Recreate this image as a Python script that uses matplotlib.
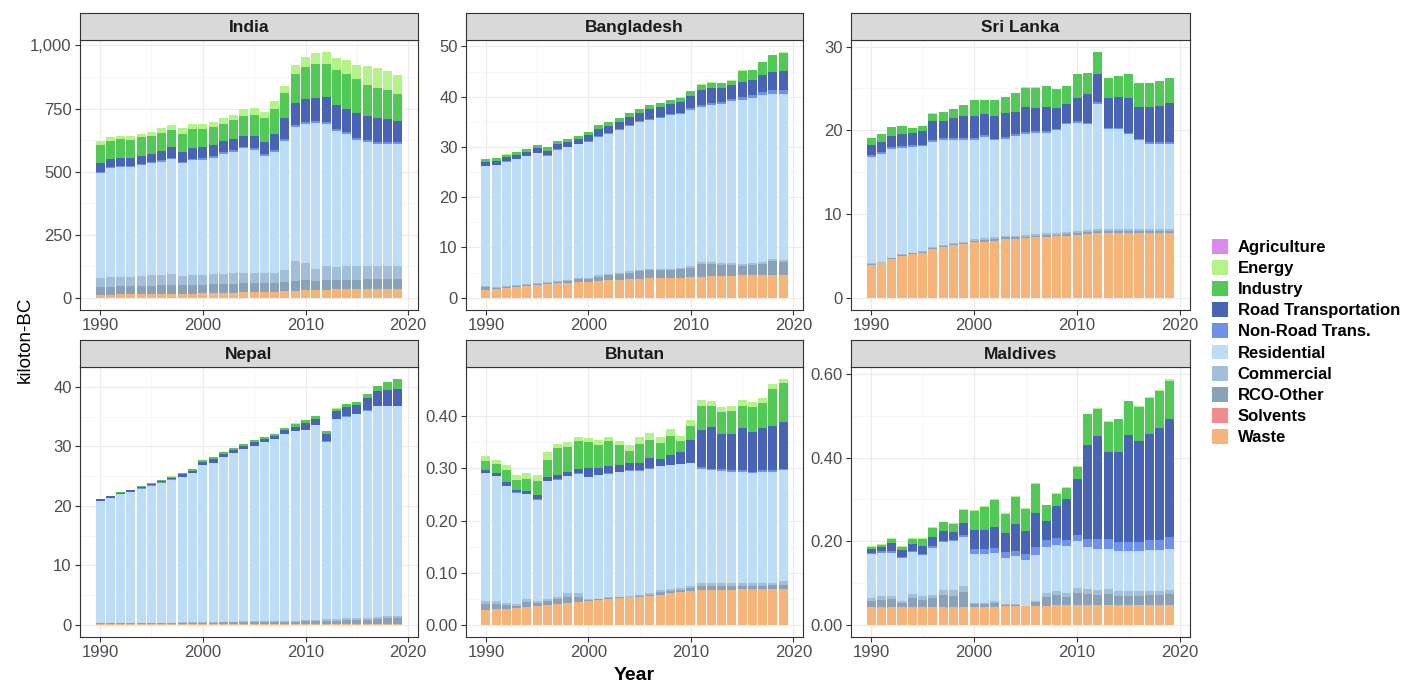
import numpy as np
import matplotlib
matplotlib.use("Agg")
import matplotlib.pyplot as plt
from matplotlib.patches import Patch

plt.rcParams['font.family'] = ['Liberation Sans', 'DejaVu Sans']

years = np.arange(1990, 2020)

# sectors from top of the stack (legend order) to bottom
sectors = ["Agriculture", "Energy", "Industry", "Road Transportation", "Non-Road Trans.",
           "Residential", "Commercial", "RCO-Other", "Solvents", "Waste"]
colors = ["#DC8BEB", "#B5F28A", "#52C957", "#4A64B5", "#6E91EC",
          "#BDDDF7", "#A2BEDB", "#8AA2B9", "#EE8C8E", "#F5B57A"]

no_emis = [0.0] * 30  # agriculture and solvents are ~0 everywhere

# ---- India (kt)
india_waste = [12,12,13,13,14,14,15,15,16,16,17,18,19,20,21,22,23,24,26,28,30,31,32,33,34,34,35,35,35,35]
india_rco = [30,32,32,33,34,34,35,36,33,34,34,35,35,36,36,36,36,36,38,40,40,36,38,38,38,38,38,38,38,38]
india_comm = [35,38,37,38,40,41,42,44,38,40,41,40,40,41,42,41,40,40,45,78,68,45,55,50,52,53,52,52,52,51]
india_res = [416,431,435,433,437,444,448,455,446,456,454,461,476,482,493,487,463,479,513,532,
             549,579,562,540,524,500,494,484,483,484]
india_nonroad = [5]*10 + [6]*10 + [8]*10
india_road = [38,32,33,31,33,32,38,41,38,42,44,45,45,44,44,49,50,65,84,86,91,93,99,96,94,100,93,96,92,84]
india_ind = [69,71,73,72,73,72,70,69,75,74,71,70,67,75,80,83,93,100,98,116,
             129,136,134,137,136,136,123,120,117,107]
india_energy = [16,16,14,16,15,16,18,19,20,21,21,20,25,22,25,28,26,29,28,35,
                39,42,45,48,55,52,74,79,72,77]

# ---- Bangladesh (kt)
bd_waste = [1.6,1.8,2.0,2.2,2.4,2.6,2.7,2.9,3.0,3.1,3.2,3.3,3.5,3.6,3.7,3.8,3.9,3.9,4.0,4.0,
            4.1,4.2,4.3,4.4,4.4,4.5,4.5,4.5,4.5,4.5]
bd_rco = [0.5,0.2,0.2,0.1,0.1,0.1,0.2,0.3,0.4,0.6,0.5,0.9,1.0,1.1,1.3,1.5,1.6,1.6,1.5,1.7,
          1.8,2.5,2.4,2.2,2.2,1.9,2.1,2.3,2.9,2.7]
bd_comm = [0.2]*10 + [0.3]*10 + [0.4]*10
bd_res = [23.9,24.2,24.7,25.1,25.5,25.9,25.2,26.0,26.3,26.6,27.0,27.5,27.8,28.3,28.9,29.3,29.6,30.0,30.5,30.6,
          31.1,30.9,31.3,31.5,32.1,32.5,32.7,33.1,32.8,33.0]
bd_nonroad = [0.1]*10 + [0.2]*10 + [0.3,0.4,0.4,0.4,0.5,0.6,0.6,0.7,0.8,0.8]
bd_road = [0.8,0.8,0.8,0.8,0.8,0.9,0.9,1.0,1.0,1.0,1.1,1.3,1.4,1.5,1.5,1.7,1.9,1.9,2.0,2.1,
           2.4,3.0,3.0,2.9,2.8,3.0,3.1,3.4,3.6,3.8]
bd_ind = [0.5,0.5,0.5,0.5,0.5,0.6,0.6,0.6,0.6,0.6,0.7,0.8,0.8,0.8,0.8,0.8,0.8,0.8,0.9,0.9,
          1.0,1.0,1.0,0.9,0.8,2.3,1.9,2.5,3.3,3.6]
bd_energy = [0.05]*30

# ---- Sri Lanka (kt)
sl_waste = [3.9,4.1,4.6,5.0,5.2,5.4,5.8,6.1,6.3,6.4,6.6,6.7,6.8,7.0,7.0,7.1,7.2,7.3,7.35,7.4,
            7.5,7.6,7.7,7.75,7.75,7.75,7.75,7.75,7.75,7.75]
sl_rco = [0.1]*10 + [0.2]*10 + [0.25]*10
sl_comm = [0.1]*10 + [0.2]*10 + [0.25]*10
sl_res = [12.7,12.9,13.0,12.7,12.6,12.5,12.6,12.6,12.4,12.3,11.9,12.1,11.6,11.6,11.9,12.1,12.1,12.0,12.25,12.9,
          12.9,12.6,15.0,11.85,11.85,11.25,10.55,10.15,10.15,10.15]
sl_nonroad = [0.2]*30
sl_road = [1.2,1.2,1.3,1.5,1.5,1.6,2.3,2.0,2.4,2.6,2.6,2.6,2.7,2.9,2.7,3.0,2.8,2.9,2.5,2.2,
           2.8,3.4,3.3,3.5,3.7,4.1,3.8,4.2,4.3,4.7]
sl_ind = [0.9,0.9,1.1,0.9,0.6,0.6,0.9,1.1,1.0,1.3,1.9,1.6,1.9,1.9,2.2,2.3,2.4,2.5,2.2,2.2,
          2.8,2.5,2.6,2.4,2.5,2.9,2.8,2.8,3.0,2.9]
sl_energy = [0.02]*30

# ---- Nepal (kt)
np_waste = [0.15]*30
np_rco = [0.1,0.1,0.1,0.1,0.15,0.15,0.15,0.15,0.2,0.2,0.2,0.2,0.25,0.25,0.3,0.3,0.3,0.3,0.35,0.35,
          0.4,0.4,0.5,0.55,0.6,0.65,0.7,0.8,0.9,0.9]
np_comm = [0.05]*10 + [0.1]*10 + [0.2,0.2,0.25,0.25,0.3,0.3,0.35,0.4,0.45,0.45]
np_res = [20.5,21.0,21.6,22.0,22.55,23.05,23.55,24.05,24.5,25.1,26.35,26.75,27.7,28.4,28.95,29.55,30.15,30.65,31.5,31.9,
          31.95,32.75,29.9,33.65,33.95,34.3,34.8,35.35,35.3,35.3]
np_nonroad = [0.02]*20 + [0.05]*10
np_road = [0.25,0.25,0.25,0.25,0.25,0.3,0.3,0.3,0.35,0.35,0.5,0.6,0.5,0.5,0.5,0.6,0.5,0.5,0.6,0.8,
           1.1,1.1,1.3,1.3,1.5,1.5,2.1,2.6,2.6,2.8]
np_ind = [0.1,0.1,0.1,0.1,0.1,0.15,0.15,0.2,0.2,0.3,0.4,0.4,0.3,0.3,0.3,0.4,0.3,0.3,0.4,0.5,
          0.5,0.5,0.45,0.4,0.5,0.5,0.7,0.8,1.4,1.6]
np_energy = [0.02]*30

# ---- Bhutan (kt)
bt_waste = [0.029,0.030,0.031,0.032,0.034,0.036,0.038,0.040,0.042,0.044,0.045,0.047,0.049,0.051,0.053,
            0.054,0.056,0.058,0.060,0.062,0.064,0.066,0.067,0.067,0.067,0.068,0.068,0.068,0.068,0.068]
bt_rco = [0.010,0.010,0.006,0.004,0.009,0.006,0.007,0.009,0.011,0.010,0.003,0.002,0.003,0.002,0.001,
          0.002,0.002,0.005,0.005,0.005,0.007,0.009,0.008,0.008,0.008,0.007,0.007,0.007,0.008,0.009]
bt_comm = [0.006,0.006,0.004,0.003,0.006,0.004,0.004,0.005,0.007,0.006,0.002,0.001,0.002,0.001,0.001,
           0.001,0.002,0.004,0.003,0.003,0.004,0.005,0.005,0.005,0.005,0.005,0.005,0.005,0.005,0.006]
bt_res = [0.246,0.239,0.225,0.214,0.201,0.194,0.226,0.224,0.225,0.230,0.233,0.237,0.236,0.239,0.240,
          0.238,0.239,0.237,0.238,0.238,0.235,0.219,0.216,0.215,0.213,0.213,0.211,0.213,0.212,0.213]
bt_nonroad = [0.001]*21 + [0.003]*9
bt_road = [0.005,0.005,0.006,0.005,0.006,0.007,0.007,0.008,0.007,0.008,0.017,0.013,0.013,0.012,0.014,
           0.015,0.020,0.013,0.018,0.022,0.044,0.072,0.081,0.068,0.070,0.081,0.075,0.082,0.086,0.090]
bt_ind = [0.018,0.017,0.024,0.019,0.023,0.027,0.034,0.052,0.048,0.053,0.049,0.043,0.048,0.038,0.023,
          0.036,0.035,0.030,0.038,0.021,0.027,0.046,0.040,0.043,0.045,0.043,0.049,0.047,0.070,0.074]
bt_energy = [0.008,0.009,0.010,0.010,0.011,0.012,0.014,0.008,0.009,0.009,0.009,0.010,0.008,0.008,0.011,
             0.014,0.013,0.013,0.012,0.011,0.010,0.011,0.009,0.009,0.009,0.012,0.010,0.010,0.010,0.008]

# ---- Maldives (kt)
mv_waste = [0.042]*10 + [0.043,0.043,0.043,0.044,0.044,0.044,0.045,0.046,0.047,0.047] + [0.048]*10
mv_rco = [0.016,0.018,0.020,0.011,0.022,0.018,0.021,0.029,0.028,0.036,0.007,0.007,0.009,0.003,0.004,
          0.001,0.009,0.021,0.024,0.020,0.028,0.026,0.024,0.026,0.022,0.022,0.022,0.023,0.023,0.025]
mv_comm = [0.007,0.008,0.008,0.005,0.010,0.008,0.009,0.013,0.012,0.015,0.003,0.003,0.004,0.002,0.002,
           0.000,0.004,0.009,0.010,0.009,0.012,0.011,0.010,0.011,0.010,0.010,0.010,0.010,0.010,0.011]
mv_res = [0.104,0.105,0.103,0.101,0.100,0.098,0.113,0.113,0.119,0.118,0.117,0.117,0.116,0.112,0.114,
          0.111,0.110,0.110,0.110,0.112,0.113,0.101,0.100,0.097,0.097,0.097,0.097,0.099,0.099,0.098]
mv_nonroad = [0.003]*10 + [0.012,0.012,0.012,0.013,0.013,0.013,0.018,0.016,0.016,0.014,
                           0.014,0.019,0.023,0.023,0.022,0.022,0.022,0.022,0.023,0.028]
mv_road = [0.010,0.010,0.019,0.018,0.016,0.020,0.023,0.025,0.018,0.029,0.045,0.045,0.051,0.045,0.065,
           0.056,0.081,0.047,0.078,0.099,0.134,0.226,0.246,0.208,0.214,0.256,0.242,0.255,0.269,0.282]
mv_ind = [0.004,0.005,0.010,0.006,0.013,0.017,0.020,0.020,0.019,0.032,0.046,0.055,0.063,0.047,0.065,
          0.052,0.070,0.037,0.029,0.026,0.030,0.073,0.066,0.072,0.079,0.080,0.080,0.086,0.088,0.092]
mv_energy = [0.002]*29 + [0.004]

# stacking order per panel, top -> bottom (same as sectors)
panels = [
    ("India", [no_emis, india_energy, india_ind, india_road, india_nonroad, india_res, india_comm, india_rco, no_emis, india_waste],
     [0, 250, 500, 750, 1000], ["0", "250", "500", "750", "1,000"]),
    ("Bangladesh", [no_emis, bd_energy, bd_ind, bd_road, bd_nonroad, bd_res, bd_comm, bd_rco, no_emis, bd_waste],
     [0, 10, 20, 30, 40, 50], ["0", "10", "20", "30", "40", "50"]),
    ("Sri Lanka", [no_emis, sl_energy, sl_ind, sl_road, sl_nonroad, sl_res, sl_comm, sl_rco, no_emis, sl_waste],
     [0, 10, 20, 30], ["0", "10", "20", "30"]),
    ("Nepal", [no_emis, np_energy, np_ind, np_road, np_nonroad, np_res, np_comm, np_rco, no_emis, np_waste],
     [0, 10, 20, 30, 40], ["0", "10", "20", "30", "40"]),
    ("Bhutan", [no_emis, bt_energy, bt_ind, bt_road, bt_nonroad, bt_res, bt_comm, bt_rco, no_emis, bt_waste],
     [0, 0.1, 0.2, 0.3, 0.4], ["0.00", "0.10", "0.20", "0.30", "0.40"]),
    ("Maldives", [no_emis, mv_energy, mv_ind, mv_road, mv_nonroad, mv_res, mv_comm, mv_rco, no_emis, mv_waste],
     [0, 0.2, 0.4, 0.6], ["0.00", "0.20", "0.40", "0.60"]),
]

W, H = 1407, 683
fig = plt.figure(figsize=(W / 100, H / 100), dpi=100)

lefts = [80, 466, 851]
widths = [338, 337, 339]
tops = [40, 367]
ph = 270
strip_h = 27

for i, (name, layers, yt, ytl) in enumerate(panels):
    r, c = divmod(i, 3)
    ax = fig.add_axes([lefts[c] / W, 1 - (tops[r] + ph) / H, widths[c] / W, ph / H])
    bottom = np.zeros(len(years))
    for sec, col, vals in zip(sectors[::-1], colors[::-1], layers[::-1]):
        vals = np.asarray(vals, dtype=float)
        ax.bar(years, vals, bottom=bottom, width=0.88, color=col,
               edgecolor="none", linewidth=0, zorder=2)
        bottom += vals
    ymax = bottom.max()
    ax.set_ylim(-0.05 * ymax, 1.05 * ymax)
    ax.set_xlim(1988.05, 2020.95)
    ax.set_xticks([1990, 2000, 2010, 2020])
    ax.set_xticks([1995, 2005, 2015], minor=True)
    ax.set_yticks(yt)
    ax.set_yticklabels(ytl)
    ax.set_yticks([(a + b) / 2 for a, b in zip(yt[:-1], yt[1:])], minor=True)
    ax.set_axisbelow(True)
    ax.grid(which="major", color="#EBEBEB", linewidth=0.8, zorder=0)
    ax.grid(which="minor", color="#F3F3F3", linewidth=0.5, zorder=0)
    ax.tick_params(which="major", length=3.5, width=0.8, color="#333333",
                   labelsize=12, labelcolor="#4D4D4D", pad=2.5)
    ax.tick_params(which="minor", length=0)
    for s in ax.spines.values():
        s.set_color("#333333")
        s.set_linewidth(0.8)
    # facet strip
    sax = fig.add_axes([lefts[c] / W, 1 - tops[r] / H, widths[c] / W, strip_h / H])
    sax.set_xticks([])
    sax.set_yticks([])
    sax.set_facecolor("#D9D9D9")
    for s in sax.spines.values():
        s.set_color("#333333")
        s.set_linewidth(0.8)
    sax.text(0.5, 0.48, name, ha="center", va="center", fontsize=12.5,
             fontweight="bold", color="#1A1A1A", transform=sax.transAxes)

fig.text(634 / W, 1 - 676 / H, "Year", ha="center", va="center",
         fontsize=14, fontweight="bold", color="black")
fig.text(25 / W, 1 - 340 / H, "kiloton-BC", ha="center", va="center",
         rotation=90, fontsize=13.5, color="black")

handles = [Patch(facecolor=col, edgecolor="none") for col in colors]
fig.legend(handles, sectors, loc="center left", bbox_to_anchor=(1205 / W, 1 - 342 / H),
           frameon=False, handlelength=1.0, handleheight=1.0,
           handletextpad=0.55, labelspacing=0.3, borderaxespad=0,
           prop={"weight": "bold", "size": 12})

fig.savefig("out.png", dpi=100)
